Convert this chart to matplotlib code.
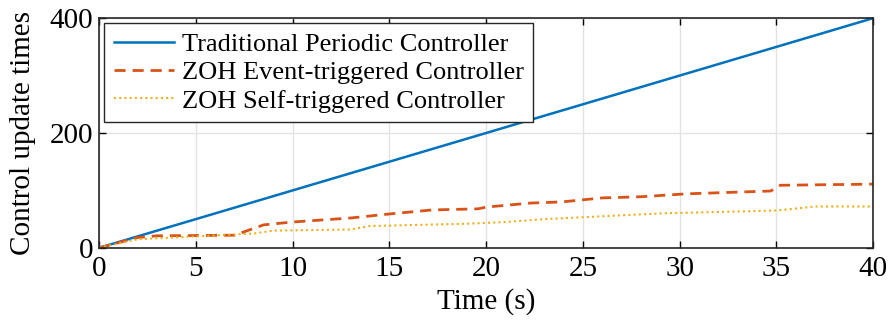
import numpy as np
import matplotlib.pyplot as plt

plt.rcParams['font.family'] = ['Liberation Serif', 'DejaVu Serif']
plt.rcParams['mathtext.fontset'] = 'stix'

# periodic controller: one update every 0.1 s
t_periodic = [0, 40]
n_periodic = [0, 400]

# event-triggered controller (ZOH)
t_event = [0, 2, 3, 7, 8.5, 10, 13, 15, 17.2, 19.6, 20, 22.3, 23.9, 26, 28, 30.3, 34.7, 35.2, 40]
n_event = [0, 18, 21, 22, 40, 45, 52, 59, 66, 68, 71, 78, 80, 87, 89, 94, 99, 109, 111]

# self-triggered controller (ZOH)
t_self = [0, 2, 5, 8, 9, 13, 14, 19, 21, 23, 26, 29, 35, 37, 40]
n_self = [0, 15, 20, 25, 30, 32, 38, 42, 45, 50, 55, 60, 65, 72, 72]

fig = plt.figure(figsize=(8.92, 3.24), dpi=100)
ax = fig.add_axes([0.111, 0.235, 0.868, 0.709])

ax.plot(t_periodic, n_periodic, color='#0072BD', lw=1.8, label='Traditional Periodic Controller')
ax.plot(t_event, n_event, color='#D95319', lw=2.0, ls=(0, (4, 2.5)), label='ZOH Event-triggered Controller')
ax.plot(t_self, n_self, color='#EDB120', lw=1.5, ls=(0, (1, 1.5)), label='ZOH Self-triggered Controller')

ax.set_xlim(0, 40)
ax.set_ylim(0, 400)
ax.set_xticks(np.arange(0, 41, 5))
ax.set_yticks([0, 200, 400])
ax.grid(True, color='#e3e3e3', lw=1.0)
ax.set_axisbelow(True)
ax.tick_params(direction='in', top=True, right=True, labelsize=21, length=5, width=1.0)
ax.tick_params(axis='x', pad=6)
ax.tick_params(axis='y', pad=4)
for s in ax.spines.values():
    s.set_linewidth(1.2)
    s.set_color('#262626')

ax.set_xlabel('Time (s)', fontsize=21, labelpad=4)
ax.set_ylabel('Control update times', fontsize=21, labelpad=10)

leg = ax.legend(loc='upper left', fontsize=19, handlelength=2.3, handletextpad=0.3,
                borderpad=0.35, labelspacing=0.18, borderaxespad=0.2, fancybox=False,
                framealpha=1, edgecolor='#262626')
leg.get_frame().set_linewidth(1.0)

fig.savefig('out.png', dpi=100)
